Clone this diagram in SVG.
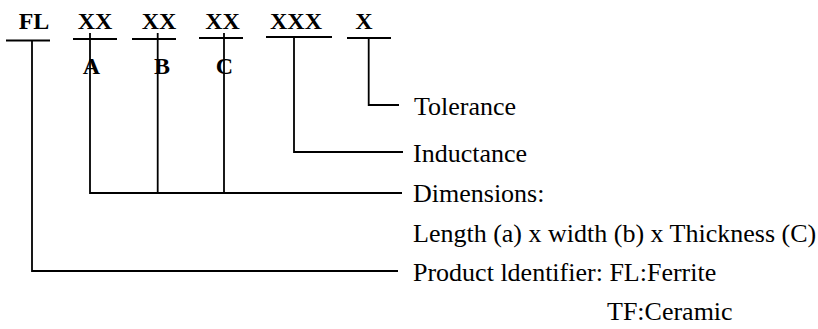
<svg xmlns="http://www.w3.org/2000/svg" width="818" height="329" viewBox="0 0 818 329">
<style>
text{font-family:'Liberation Serif','Times New Roman','DejaVu Serif',serif;fill:#000}
.code{font-weight:bold;font-size:24px;text-anchor:middle}
.lbl{font-size:26px}
.ul{stroke:#000;stroke-width:2;fill:none}
.ln{stroke:#000;stroke-width:1.8;fill:none}
</style>
<rect width="818" height="329" fill="#fff"/>
<g id="code-FL"><text class="code" x="34" y="29">FL</text><line class="ul" x1="6" y1="40.5" x2="50" y2="40.5"/></g>
<g id="code-XX-A"><text class="code" x="95" y="29">XX</text><line class="ul" x1="73" y1="39" x2="117" y2="39"/><text class="code" x="91.5" y="74">A</text></g>
<g id="code-XX-B"><text class="code" x="159" y="29">XX</text><line class="ul" x1="132" y1="39" x2="176" y2="39"/><text class="code" x="162" y="74">B</text></g>
<g id="code-XX-C"><text class="code" x="222.5" y="29">XX</text><line class="ul" x1="199" y1="38" x2="243" y2="38"/><text class="code" x="224.5" y="74">C</text></g>
<g id="code-XXX"><text class="code" x="296" y="29">XXX</text><line class="ul" x1="266" y1="37" x2="332" y2="37"/></g>
<g id="code-X"><text class="code" x="364" y="29">X</text><line class="ul" x1="347" y1="38" x2="391" y2="38"/></g>
<g id="label-tolerance"><text class="lbl" x="414" y="115">Tolerance</text></g>
<g id="label-inductance"><text class="lbl" x="413" y="162">Inductance</text></g>
<g id="label-dimensions"><text class="lbl" x="413" y="202">Dimensions:</text><text class="lbl" x="413" y="242">Length (a) x width (b) x Thickness (C)</text></g>
<g id="label-product"><text class="lbl" x="413" y="281">Product ldentifier: FL:Ferrite</text><text class="lbl" x="607" y="320">TF:Ceramic</text></g>
<g id="connectors">
<polyline class="ln" points="32,41 32,271 398,271"/>
<polyline class="ln" points="90,33 90,193 402,193"/>
<line class="ln" x1="157.7" y1="33" x2="157.7" y2="193"/>
<line class="ln" x1="224" y1="33" x2="224" y2="193"/>
<polyline class="ln" points="294,37 294,152 403,152"/>
<polyline class="ln" points="368.7,38 368.7,105 399,105"/>
</g>
</svg>
